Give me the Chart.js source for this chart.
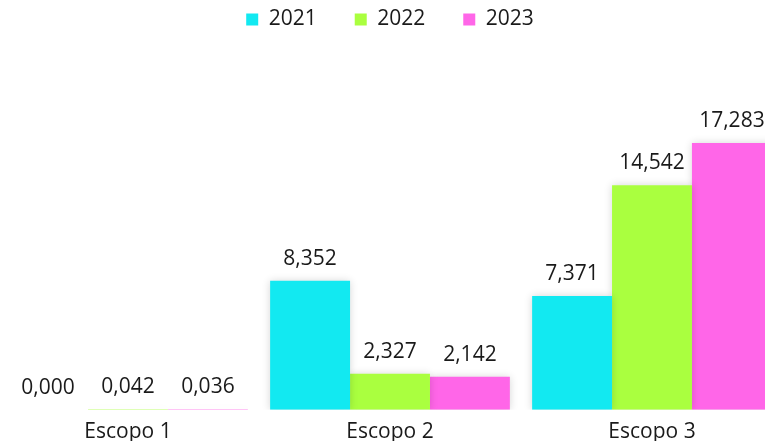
<!DOCTYPE html>
<html>
<head>
<meta charset="utf-8">
<script src="https://cdn.jsdelivr.net/npm/chart.js@4/dist/chart.umd.min.js"></script>
<style>
html,body{margin:0;padding:0;background:#fff;overflow:hidden;width:765px;height:441px;}
#wrap{position:absolute;left:-3px;top:0;width:786px;height:441px;}
</style>
</head>
<body>
<div id="wrap"><canvas id="c"></canvas></div>
<script>
const categories = ['Escopo 1', 'Escopo 2', 'Escopo 3'];
const seriesNames = ['2021', '2022', '2023'];
const values2021 = [0.000, 8.352, 7.371];
const values2022 = [0.042, 2.327, 14.542];
const values2023 = [0.036, 2.142, 17.283];
const colors = ['#12E9F1', '#AAFF3F', '#FF66E8'];

const FONT = 'Open Sans';
const FS = 21;

const shadowPlugin = {
  id: 'barShadow',
  beforeDatasetDraw(chart) {
    const ctx = chart.ctx;
    ctx.save();
    ctx.shadowColor = 'rgba(0,0,0,0.16)';
    ctx.shadowBlur = 8;
    ctx.shadowOffsetX = 0;
    ctx.shadowOffsetY = 0;
  },
  afterDatasetDraw(chart) {
    chart.ctx.restore();
  }
};

const labelPlugin = {
  id: 'valueLabels',
  afterDatasetsDraw(chart) {
    const ctx = chart.ctx;
    ctx.save();
    ctx.font = FS + 'px "' + FONT + '"';
    ctx.fillStyle = '#1a1a1a';
    ctx.textAlign = 'center';
    ctx.textBaseline = 'alphabetic';
    chart.data.datasets.forEach((ds, i) => {
      const meta = chart.getDatasetMeta(i);
      meta.data.forEach((bar, j) => {
        const txt = ds.data[j].toFixed(3).replace('.', ',');
        ctx.fillText(txt, bar.x, bar.y - 16);
      });
    });
    ctx.restore();
  }
};

new Chart(document.getElementById('c'), {
  type: 'bar',
  data: {
    labels: categories,
    datasets: [
      { label: seriesNames[0], data: values2021, backgroundColor: colors[0] },
      { label: seriesNames[1], data: values2022, backgroundColor: colors[1] },
      { label: seriesNames[2], data: values2023, backgroundColor: colors[2] }
    ]
  },
  options: {
    responsive: true,
    maintainAspectRatio: false,
    animation: false,
    layout: { padding: { left: 0, right: 0, top: -29, bottom: -6 } },
    datasets: { bar: { barPercentage: 1.0, categoryPercentage: 0.915, borderWidth: 0 } },
    plugins: {
      legend: {
        position: 'top',
        labels: {
          boxWidth: 12, boxHeight: 12, padding: 38,
          color: '#1a1a1a',
          font: { family: FONT, size: FS }
        }
      },
      tooltip: { enabled: false }
    },
    scales: {
      x: {
        grid: { display: false },
        border: { display: false },
        ticks: { color: '#1a1a1a', font: { family: FONT, size: FS }, padding: 2 }
      },
      y: {
        display: false,
        min: 0,
        max: 23.95
      }
    }
  },
  plugins: [shadowPlugin, labelPlugin]
});
</script>
</body>
</html>
